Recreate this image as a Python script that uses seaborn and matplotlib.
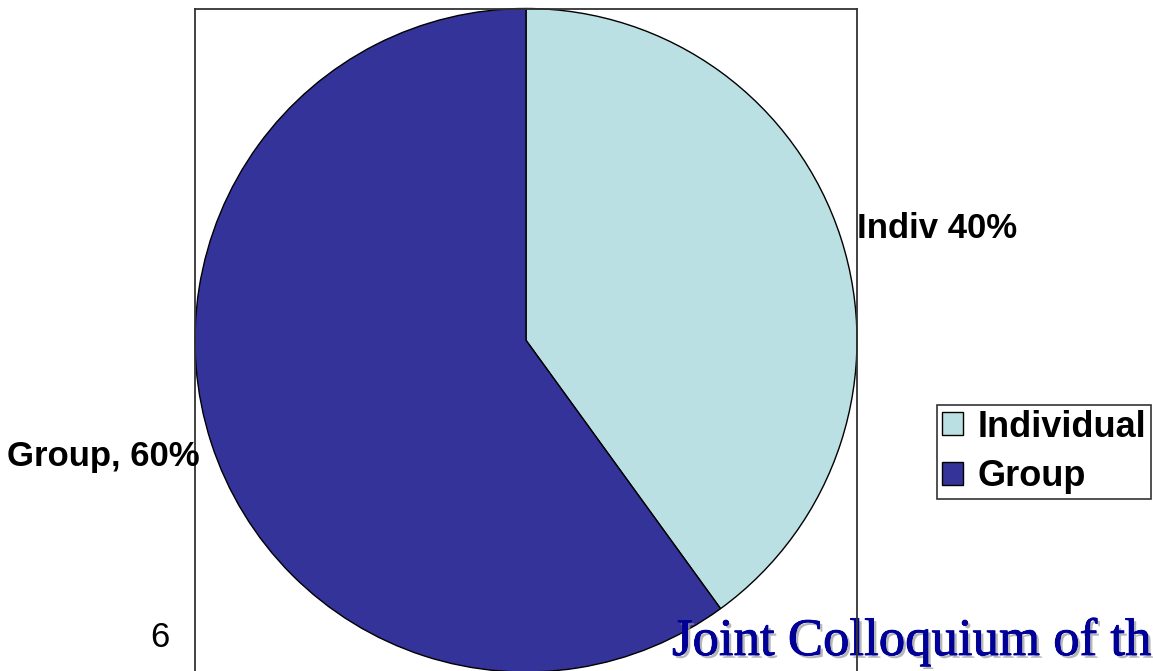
import matplotlib
matplotlib.use("Agg")
import matplotlib.pyplot as plt
import matplotlib.patheffects as pe
import seaborn as sns

categories = ["Individual", "Group"]
shares = [40, 60]
slice_labels = ["Indiv 40%", "Group, 60%"]
colors = ["#BBE0E3", "#333399"]
page_number = "6"
footer_text = "Joint Colloquium of th"

sns.set_theme(style="white")
plt.rcParams["font.family"] = ["Liberation Sans", "DejaVu Sans"]

W, H = 1153, 671
fig = plt.figure(figsize=(W / 100, H / 100), dpi=100)
fig.patch.set_facecolor("white")

def fx(x):
    return x / W

def fy(y):
    return 1 - y / H

ax = fig.add_axes([fx(195), fy(672), (857 - 195) / W, (672 - 8.5) / H])
wedges, _ = ax.pie(shares, colors=colors, startangle=90, counterclock=False,
                   radius=1.0, wedgeprops=dict(edgecolor="black", linewidth=1.0))
ax.set_xlim(-1.0, 1.0)
ax.set_ylim(-1.0, 1.0)
ax.set_aspect("auto")
ax.set_frame_on(True)
ax.set_xticks([])
ax.set_yticks([])
for s in ax.spines.values():
    s.set_visible(True)
    s.set_color("#333333")
    s.set_linewidth(1.3)
    s.set_zorder(5)
ax.spines["bottom"].set_visible(False)

fig.text(fx(857), fy(238), slice_labels[0], fontsize=25, fontweight="bold",
         ha="left", va="baseline", color="black")
fig.text(fx(7), fy(466), slice_labels[1], fontsize=25, fontweight="bold",
         ha="left", va="baseline", color="black")

leg = fig.legend(wedges, categories, loc="upper left",
                 bbox_to_anchor=(fx(937), fy(405)), frameon=True, fancybox=False,
                 prop=dict(size=26, weight="bold"), labelcolor="black",
                 handlelength=0.6, handleheight=0.6,
                 handletextpad=0.4, borderpad=0.13, labelspacing=0.4, borderaxespad=0)
leg.get_frame().set_edgecolor("black")
leg.get_frame().set_linewidth(1.2)

fig.text(fx(150), fy(647), page_number, fontsize=25, ha="left", va="baseline", color="black")

ax.text(fx(672), fy(655), footer_text, fontsize=38, family="Liberation Serif",
        ha="left", va="baseline", color="#000099", transform=fig.transFigure,
        clip_on=False, zorder=4,
        path_effects=[pe.withSimplePatchShadow(offset=(2, -2), shadow_rgbFace="#999999", alpha=0.7),
                      pe.Stroke(linewidth=0.6, foreground="#000099"),
                      pe.Normal()])

fig.savefig("out.png", dpi=100)
